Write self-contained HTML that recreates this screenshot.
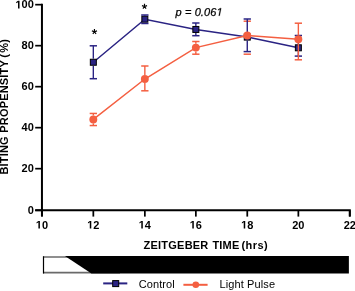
<!DOCTYPE html>
<html><head><meta charset="utf-8"><style>
html,body{margin:0;padding:0;background:#fff;width:355px;height:291px;overflow:hidden}
svg{display:block;will-change:transform}
text{font-family:"Liberation Sans",sans-serif;fill:#000}
.tk{font-size:11px;font-weight:bold}
.ast{font-size:12px}
path.pv{vector-effect:non-scaling-stroke}
.pv{font-size:11px;font-style:italic;letter-spacing:0.12px;stroke:#000;stroke-width:0.25px}
.ttl{font-size:11px;font-weight:bold;letter-spacing:0.22px;word-spacing:0.6px;white-space:pre}
.ttl2{font-size:11px;font-weight:bold;letter-spacing:0.18px;word-spacing:0.3px;white-space:pre}
.lg{font-size:11px;letter-spacing:0.1px}
</style></head><body>
<svg width="355" height="291" viewBox="0 0 355 291">
<path d="M41.95,3.85V216.6M35.2,210.25H349.80V216.6" fill="none" stroke="#000" stroke-width="2"/>
<line x1="35.2" y1="210.30" x2="42.0" y2="210.30" stroke="#000" stroke-width="1.7"/>
<text x="27.68" y="214.05" class="tk">0</text>
<line x1="35.2" y1="168.67" x2="42.0" y2="168.67" stroke="#000" stroke-width="1.7"/>
<text x="21.56" y="172.42" class="tk">20</text>
<line x1="35.2" y1="127.67" x2="42.0" y2="127.67" stroke="#000" stroke-width="1.7"/>
<text x="21.56" y="131.42" class="tk">40</text>
<line x1="35.2" y1="86.67" x2="42.0" y2="86.67" stroke="#000" stroke-width="1.7"/>
<text x="21.56" y="90.42" class="tk">60</text>
<line x1="35.2" y1="45.67" x2="42.0" y2="45.67" stroke="#000" stroke-width="1.7"/>
<text x="21.56" y="49.42" class="tk">80</text>
<line x1="35.2" y1="4.67" x2="42.0" y2="4.67" stroke="#000" stroke-width="1.7"/>
<text x="15.45" y="8.42" class="tk"> 00</text><path class="tk" transform="translate(15.45,8.42) scale(0.005371,-0.005371)" d="M478 0L478 1170L140 959L140 1180L493 1409L759 1409L759 0Z"/>
<line x1="41.95" y1="210.25" x2="41.95" y2="216.6" stroke="#000" stroke-width="1.75"/>
<text x="35.83" y="228.60" class="tk"> 0</text><path class="tk" transform="translate(35.83,228.60) scale(0.005371,-0.005371)" d="M478 0L478 1170L140 959L140 1180L493 1409L759 1409L759 0Z"/>
<line x1="93.33" y1="210.25" x2="93.33" y2="216.6" stroke="#000" stroke-width="1.75"/>
<text x="87.21" y="228.60" class="tk"> 2</text><path class="tk" transform="translate(87.21,228.60) scale(0.005371,-0.005371)" d="M478 0L478 1170L140 959L140 1180L493 1409L759 1409L759 0Z"/>
<line x1="144.85" y1="210.25" x2="144.85" y2="216.6" stroke="#000" stroke-width="1.75"/>
<text x="138.73" y="228.60" class="tk"> 4</text><path class="tk" transform="translate(138.73,228.60) scale(0.005371,-0.005371)" d="M478 0L478 1170L140 959L140 1180L493 1409L759 1409L759 0Z"/>
<line x1="195.85" y1="210.25" x2="195.85" y2="216.6" stroke="#000" stroke-width="1.75"/>
<text x="189.73" y="228.60" class="tk"> 6</text><path class="tk" transform="translate(189.73,228.60) scale(0.005371,-0.005371)" d="M478 0L478 1170L140 959L140 1180L493 1409L759 1409L759 0Z"/>
<line x1="247.27" y1="210.25" x2="247.27" y2="216.6" stroke="#000" stroke-width="1.75"/>
<text x="241.15" y="228.60" class="tk"> 8</text><path class="tk" transform="translate(241.15,228.60) scale(0.005371,-0.005371)" d="M478 0L478 1170L140 959L140 1180L493 1409L759 1409L759 0Z"/>
<line x1="298.36" y1="210.25" x2="298.36" y2="216.6" stroke="#000" stroke-width="1.75"/>
<text x="292.24" y="228.60" class="tk">20</text>
<line x1="349.80" y1="210.25" x2="349.80" y2="216.6" stroke="#000" stroke-width="1.75"/>
<text x="343.68" y="228.60" class="tk">22</text>
<polyline points="93.33,62.25 144.85,19.20 195.85,29.45 247.27,37.10 298.36,47.80" fill="none" stroke="#2a2383" stroke-width="1.5"/>
<rect x="90.33" y="59.25" width="6.0" height="6.0" fill="#2a2383" stroke="#000" stroke-width="1"/>
<rect x="141.85" y="16.20" width="6.0" height="6.0" fill="#2a2383" stroke="#000" stroke-width="1"/>
<rect x="192.85" y="26.45" width="6.0" height="6.0" fill="#2a2383" stroke="#000" stroke-width="1"/>
<rect x="244.27" y="34.10" width="6.0" height="6.0" fill="#2a2383" stroke="#000" stroke-width="1"/>
<rect x="295.36" y="44.80" width="6.0" height="6.0" fill="#2a2383" stroke="#000" stroke-width="1"/>
<line x1="89.68" y1="113.45" x2="96.98" y2="113.45" stroke="#f45f41" stroke-width="1.5"/><line x1="89.68" y1="125.55" x2="96.98" y2="125.55" stroke="#f45f41" stroke-width="1.5"/>
<line x1="141.20" y1="66.00" x2="148.50" y2="66.00" stroke="#f45f41" stroke-width="1.5"/><line x1="141.20" y1="90.80" x2="148.50" y2="90.80" stroke="#f45f41" stroke-width="1.5"/>
<line x1="192.20" y1="41.50" x2="199.50" y2="41.50" stroke="#f45f41" stroke-width="1.5"/><line x1="192.20" y1="54.20" x2="199.50" y2="54.20" stroke="#f45f41" stroke-width="1.5"/>
<line x1="243.62" y1="21.20" x2="250.92" y2="21.20" stroke="#f45f41" stroke-width="1.5"/><line x1="243.62" y1="54.20" x2="250.92" y2="54.20" stroke="#f45f41" stroke-width="1.5"/>
<line x1="294.71" y1="23.20" x2="302.01" y2="23.20" stroke="#f45f41" stroke-width="1.5"/><line x1="294.71" y1="59.80" x2="302.01" y2="59.80" stroke="#f45f41" stroke-width="1.5"/>
<line x1="89.68" y1="45.80" x2="96.98" y2="45.80" stroke="#2a2383" stroke-width="1.5"/><line x1="89.68" y1="78.70" x2="96.98" y2="78.70" stroke="#2a2383" stroke-width="1.5"/>
<line x1="141.20" y1="15.00" x2="148.50" y2="15.00" stroke="#2a2383" stroke-width="1.5"/><line x1="141.20" y1="23.50" x2="148.50" y2="23.50" stroke="#2a2383" stroke-width="1.5"/>
<line x1="192.20" y1="23.00" x2="199.50" y2="23.00" stroke="#2a2383" stroke-width="1.5"/><line x1="192.20" y1="35.70" x2="199.50" y2="35.70" stroke="#2a2383" stroke-width="1.5"/>
<line x1="243.62" y1="19.00" x2="250.92" y2="19.00" stroke="#2a2383" stroke-width="1.5"/><line x1="243.62" y1="51.60" x2="250.92" y2="51.60" stroke="#2a2383" stroke-width="1.5"/>
<line x1="294.71" y1="35.50" x2="302.01" y2="35.50" stroke="#2a2383" stroke-width="1.5"/><line x1="294.71" y1="56.10" x2="302.01" y2="56.10" stroke="#2a2383" stroke-width="1.5"/>
<line x1="93.33" y1="45.80" x2="93.33" y2="58.75" stroke="#2a2383" stroke-width="1.4"/><line x1="93.33" y1="65.75" x2="93.33" y2="78.70" stroke="#2a2383" stroke-width="1.4"/>
<line x1="144.85" y1="15.00" x2="144.85" y2="15.70" stroke="#2a2383" stroke-width="1.4"/><line x1="144.85" y1="22.70" x2="144.85" y2="23.50" stroke="#2a2383" stroke-width="1.4"/>
<line x1="195.85" y1="23.00" x2="195.85" y2="25.95" stroke="#2a2383" stroke-width="1.4"/><line x1="195.85" y1="32.95" x2="195.85" y2="35.70" stroke="#2a2383" stroke-width="1.4"/>
<line x1="247.27" y1="19.00" x2="247.27" y2="33.60" stroke="#2a2383" stroke-width="1.4"/><line x1="247.27" y1="40.60" x2="247.27" y2="51.60" stroke="#2a2383" stroke-width="1.4"/>
<line x1="298.36" y1="35.50" x2="298.36" y2="44.30" stroke="#2a2383" stroke-width="1.4"/><line x1="298.36" y1="51.30" x2="298.36" y2="56.10" stroke="#2a2383" stroke-width="1.4"/>
<line x1="93.33" y1="113.45" x2="93.33" y2="115.50" stroke="#f45f41" stroke-width="1.4"/><line x1="93.33" y1="123.40" x2="93.33" y2="125.55" stroke="#f45f41" stroke-width="1.4"/>
<line x1="144.85" y1="66.00" x2="144.85" y2="75.05" stroke="#f45f41" stroke-width="1.4"/><line x1="144.85" y1="82.95" x2="144.85" y2="90.80" stroke="#f45f41" stroke-width="1.4"/>
<line x1="195.85" y1="41.50" x2="195.85" y2="43.65" stroke="#f45f41" stroke-width="1.4"/><line x1="195.85" y1="51.55" x2="195.85" y2="54.20" stroke="#f45f41" stroke-width="1.4"/>
<line x1="298.36" y1="23.20" x2="298.36" y2="35.35" stroke="#f45f41" stroke-width="1.4"/><line x1="298.36" y1="43.25" x2="298.36" y2="59.80" stroke="#f45f41" stroke-width="1.4"/>
<polyline points="93.33,119.45 144.85,79.00 195.85,47.60 247.27,35.50 298.36,39.30" fill="none" stroke="#f45f41" stroke-width="1.5"/>
<circle cx="93.33" cy="119.45" r="3.95" fill="#f45f41"/>
<circle cx="144.85" cy="79.00" r="3.95" fill="#f45f41"/>
<circle cx="195.85" cy="47.60" r="3.95" fill="#f45f41"/>
<circle cx="247.27" cy="35.50" r="3.95" fill="#f45f41"/>
<circle cx="298.36" cy="39.30" r="3.95" fill="#f45f41"/>
<path d="M94.45,31.70L94.45,29.00M94.45,31.70L97.02,30.87M94.45,31.70L96.04,33.88M94.45,31.70L92.86,33.88M94.45,31.70L91.88,30.87" stroke="#000" stroke-width="1.15" fill="none"/>
<path d="M144.50,6.50L144.50,3.80M144.50,6.50L147.07,5.67M144.50,6.50L146.09,8.68M144.50,6.50L142.91,8.68M144.50,6.50L141.93,5.67" stroke="#000" stroke-width="1.15" fill="none"/>
<text x="175.50" y="15.70" class="pv">p = 0.06 </text><path class="pv" transform="translate(216.52,15.70) scale(0.005371,-0.005371)" d="M412 0L650 1223L289 1000L324 1180L701 1409L867 1409L593 0Z"/>
<text x="143.6" y="248.6" class="ttl">ZEITGEBER TIME <tspan dx="-1.9" style="letter-spacing:0.4px">(hrs)</tspan></text>
<text transform="translate(7.9,174.6) rotate(-90)" class="ttl2">BITING PROPENSITY <tspan dx="-1">(</tspan><tspan dx="1">%)</tspan></text>
<line x1="43" y1="257.05" x2="120" y2="257.05" stroke="#6a6a6a" stroke-width="1.6"/>
<line x1="43" y1="272.65" x2="120" y2="272.65" stroke="#6a6a6a" stroke-width="1.7"/>
<line x1="43.5" y1="256.3" x2="43.5" y2="273.5" stroke="#000" stroke-width="1.2"/>
<polygon points="64.9,256.1 348.9,256.1 348.9,273.6 91.4,273.6" fill="#000"/>
<line x1="103.2" y1="283.4" x2="127.3" y2="283.4" stroke="#2a2383" stroke-width="2"/>
<rect x="112.7" y="280.6" width="6" height="6" fill="#2a2383" stroke="#000" stroke-width="1"/>
<text x="138.7" y="287.9" class="lg">Control</text>
<line x1="183.4" y1="284.8" x2="207.6" y2="284.8" stroke="#f45f41" stroke-width="2"/>
<circle cx="195.8" cy="284.7" r="3.3" fill="#f45f41"/>
<text x="219.6" y="287.9" class="lg">Light Pulse</text>
</svg>
</body></html>
